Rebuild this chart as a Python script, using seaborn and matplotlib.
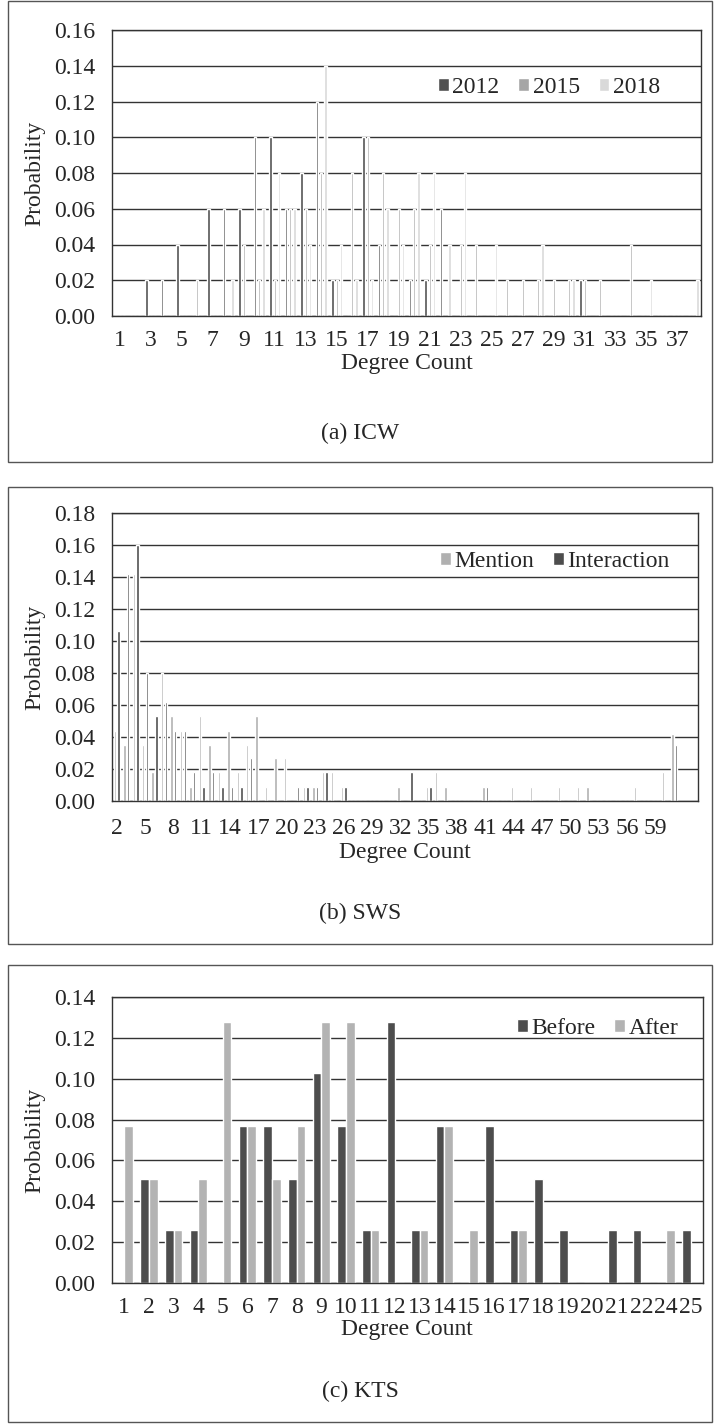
import pandas as pd
import seaborn as sns
import matplotlib.pyplot as plt
from matplotlib.patches import Rectangle

# (a) ICW - degree distribution for three years
icw_degree = [str(d) for d in range(1, 39)]
icw_2012 = [0, 0, .02, .02, .04, 0, .06, .06, .06, .10,
            .10, .06, .08, .12, .02, 0, .10, .04, 0, .02,
            .02, .06, 0, 0, 0, 0, 0, 0, 0, 0,
            .02, 0, 0, 0, 0, 0, 0, 0]
icw_2015 = [0, 0, 0, 0, 0, .02, 0, 0, .04, .02,
            .02, .06, .06, .08, .02, .08, .10, .08, .06, .06,
            .04, 0, .04, .04, 0, .02, .02, .02, .02, .02,
            .02, .02, 0, .04, 0, 0, 0, 0]
icw_2018 = [0, 0, 0, 0, 0, 0, 0, .02, 0, .06,
            .08, .06, .04, .14, .04, .02, .02, .06, .04, .08,
            .08, .04, .08, 0, .04, 0, 0, .04, 0, .02,
            0, 0, 0, 0, .02, 0, 0, .02]

# (b) SWS - mention vs interaction networks
sws_degree = [str(d) for d in range(2, 62)]
sws_mention = [.044, .035, .142, .035, .018, .080, .053, .044, .009, .053,
               .035, .018, .044, .018, .035, .053, .009, .027, .027, 0,
               .009, .009, .018, .018, .009, 0, 0, 0, 0, 0,
               .009, 0, 0, .009, .018, .009, 0, 0, 0, .009,
               0, 0, .009, 0, .009, 0, 0, .009, 0, .009,
               .009, 0, 0, 0, 0, .009, 0, 0, .018, .042]
sws_interaction = [.106, .142, .160, .080, .053, .062, .044, .044, .018, .009,
                   .018, .009, .009, .009, .027, 0, 0, 0, 0, .009,
                   .009, .009, .018, 0, .009, 0, 0, 0, 0, 0,
                   0, .018, 0, .009, 0, 0, 0, 0, 0, .009,
                   0, 0, 0, 0, 0, 0, 0, 0, 0, 0,
                   0, 0, 0, 0, 0, 0, 0, 0, 0, .035]

# (c) KTS - before vs after
kts_degree = [str(d) for d in list(range(1, 23)) + [24, 25]]
kts_before = [0, .051, .026, .026, 0, .077, .077, .051, .103, .077,
              .026, .128, .026, .077, 0, .077, .026, .051, .026, 0,
              .026, .026, 0, .026]
kts_after = [.077, .051, .026, .051, .128, .077, .051, .077, .128, .128,
             .026, 0, .026, .077, .026, 0, .026, 0, 0, 0,
             0, 0, .026, 0]

sns.set_style("white")
plt.rcParams['font.family'] = ['Liberation Serif', 'DejaVu Serif']
FS = 17

W, H = 715, 1425
fig = plt.figure(figsize=(W / 100, H / 100), dpi=100)


def fx(x):
    return x / W


def fy(y):
    return 1 - y / H


def make_axes(left, top, right, bottom):
    return fig.add_axes([fx(left), fy(bottom), fx(right) - fx(left), (bottom - top) / H])


def long_form(cats, series):
    rows = []
    for name, vals in series.items():
        for c, v in zip(cats, vals):
            rows.append({'Degree': c, 'Series': name, 'Probability': v})
    return pd.DataFrame(rows)


def style_axes(ax, ymax, ncats, xpad):
    n = int(round(ymax / 0.02)) + 1
    ax.set_ylim(0, ymax)
    ax.set_xlim(-0.5, ncats - 0.5)
    ax.set_yticks([i * 0.02 for i in range(n)])
    ax.set_yticklabels([f"{i * 0.02:.2f}" for i in range(n)])
    ax.yaxis.grid(True, color='#333333', linewidth=1)
    ax.set_axisbelow(True)
    for s in ax.spines.values():
        s.set_color('#333333')
        s.set_linewidth(1)
    ax.tick_params(axis='both', length=0, labelsize=FS)
    ax.tick_params(axis='y', pad=12)
    ax.tick_params(axis='x', pad=xpad)
    ax.set_xlabel('')
    ax.set_ylabel('')


def fix_legend(ax, x, y, spacing):
    handles, labels = ax.get_legend_handles_labels()
    ax.legend(handles, labels, loc='center', bbox_to_anchor=(x, y), ncol=len(labels),
              frameon=False, fontsize=FS, handlelength=0.45, handleheight=0.45,
              handletextpad=0.15, columnspacing=spacing)


def panel_text(box, cx, label_y, prob_y, caption, cap_y):
    fig.text(fx(cx), fy(label_y), 'Degree Count', ha='center', va='center', fontsize=FS)
    fig.text(fx(35), fy(prob_y), 'Probability', ha='center', va='center', rotation=90, fontsize=FS)
    fig.text(fx(360), fy(cap_y), caption, ha='center', va='center', fontsize=FS)
    left, top, right, bottom = box
    fig.patches.append(Rectangle((fx(left), fy(bottom)), fx(right) - fx(left), (bottom - top) / H,
                                 transform=fig.transFigure, fill=False,
                                 edgecolor='#555555', linewidth=1))


# ---- (a) ICW ----
ax1 = make_axes(112, 30, 701, 316)
df1 = long_form(icw_degree, {'2012': icw_2012, '2015': icw_2015, '2018': icw_2018})
sns.barplot(data=df1, x='Degree', y='Probability', hue='Series', order=icw_degree,
            palette=['#505050', '#a6a6a6', '#d9d9d9'], saturation=1, errorbar=None,
            width=0.85, gap=0.47, ax=ax1)
style_axes(ax1, 0.16, len(icw_degree), 10)
ax1.set_xticks(range(0, len(icw_degree), 2))
ax1.set_xticklabels(icw_degree[::2])
fix_legend(ax1, 0.742, 0.80, 0.8)
panel_text((8, 1, 712, 462), 407, 364, 173, '(a) ICW', 433)

# ---- (b) SWS ----
ax2 = make_axes(112, 513, 698, 801)
df2 = long_form(sws_degree, {'Mention': sws_mention, 'Interaction': sws_interaction})
sns.barplot(data=df2, x='Degree', y='Probability', hue='Series', order=sws_degree,
            palette=['#b0b0b0', '#4d4d4d'], saturation=1, errorbar=None,
            width=0.78, gap=0.35, ax=ax2)
style_axes(ax2, 0.18, 62, 12)
ax2.set_xticks(range(0, 58, 3))
ax2.set_xticklabels(sws_degree[0:58:3])
fix_legend(ax2, 0.756, 0.833, 0.8)
panel_text((8, 487, 712, 944), 405, 853, 657, '(b) SWS', 913)

# ---- (c) KTS ----
ax3 = make_axes(112, 997, 703, 1283)
df3 = long_form(kts_degree, {'Before': kts_before, 'After': kts_after})
sns.barplot(data=df3, x='Degree', y='Probability', hue='Series', order=kts_degree,
            palette=['#4d4d4d', '#b3b3b3'], saturation=1, errorbar=None,
            width=0.70, gap=0, ax=ax3)
style_axes(ax3, 0.14, len(kts_degree), 10)
ax3.set_xticks(range(len(kts_degree)))
ax3.set_xticklabels(kts_degree)
fix_legend(ax3, 0.822, 0.89, 0.8)
panel_text((8, 965, 712, 1422), 407, 1330, 1140, '(c) KTS', 1391)

fig.savefig('out.png', dpi=100)
